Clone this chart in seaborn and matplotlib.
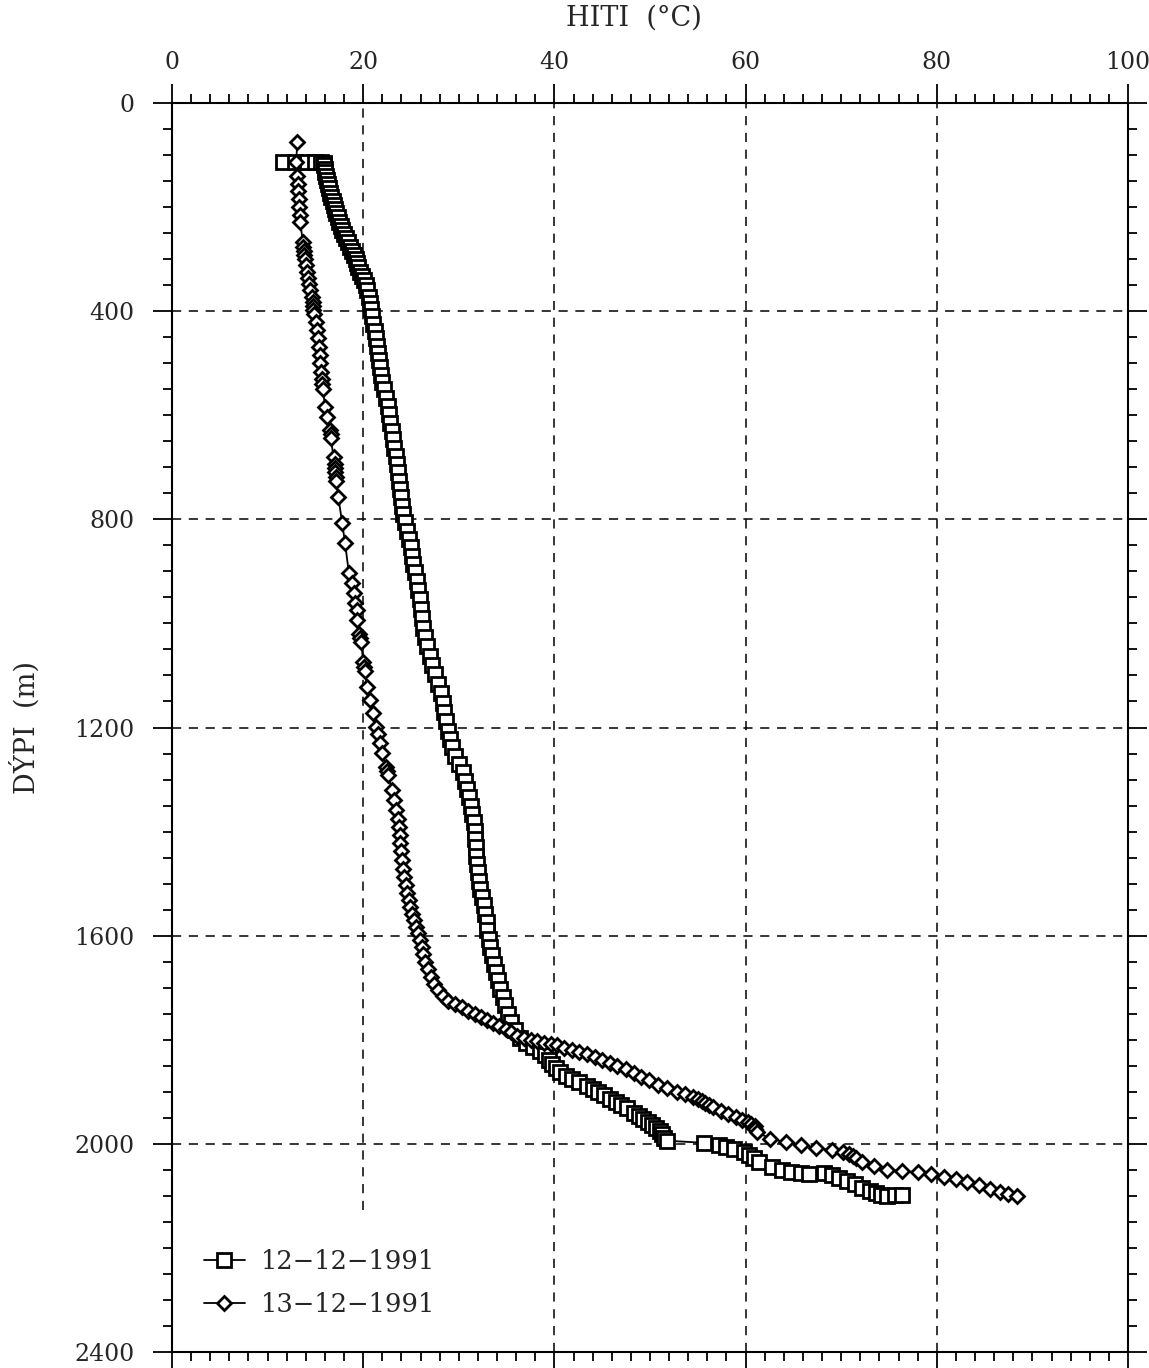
import matplotlib
matplotlib.use("Agg")
import matplotlib.pyplot as plt
import seaborn as sns
from matplotlib.ticker import MultipleLocator

# Temperature log, 12-12-1991 (square markers): depth (m) and temperature (°C)
sq_depth = [113, 113, 113, 113, 114, 116, 120, 126, 132, 140,
            148, 156, 164, 172, 180, 188, 196, 204, 212, 220,
            228, 236, 244, 252, 260, 268, 276, 284, 292, 300,
            308, 316, 324, 332, 340, 350, 360, 372, 384, 396,
            410, 424, 438, 452, 466, 480, 494, 508, 522, 536,
            550, 566, 582, 598, 614, 630, 646, 662, 678, 694,
            710, 726, 742, 758, 774, 790, 806, 822, 838, 854,
            870, 886, 902, 918, 936, 954, 972, 990, 1008, 1026,
            1044, 1062, 1080, 1098, 1116, 1134, 1152, 1170, 1188, 1206,
            1222, 1238, 1254, 1270, 1286, 1302, 1318, 1334, 1350, 1366,
            1382, 1398, 1414, 1430, 1446, 1462, 1478, 1494, 1510, 1526,
            1542, 1558, 1574, 1590, 1606, 1622, 1638, 1654, 1670, 1686,
            1702, 1718, 1734, 1750, 1766, 1782, 1796, 1806, 1814, 1822,
            1830, 1838, 1846, 1854, 1862, 1870, 1876, 1882, 1888, 1894,
            1900, 1906, 1914, 1920, 1926, 1932, 1940, 1946, 1952, 1958,
            1964, 1970, 1976, 1982, 1988, 1994, 1998, 2003, 2006, 2010,
            2016, 2022, 2028, 2034, 2044, 2050, 2054, 2056, 2058, 2056,
            2060, 2066, 2072, 2078, 2084, 2090, 2094, 2098, 2100, 2098,
            2098]
sq_temp = [11.6, 12.9, 14.1, 15.0, 15.6, 15.9, 15.9, 16.0, 16.0, 16.1,
           16.2, 16.3, 16.4, 16.5, 16.6, 16.8, 16.9, 17.1, 17.2, 17.4,
           17.5, 17.7, 17.8, 18.0, 18.2, 18.4, 18.6, 18.8, 19.0, 19.2,
           19.4, 19.5, 19.7, 19.9, 20.1, 20.3, 20.4, 20.6, 20.7, 20.8,
           20.9, 21.0, 21.2, 21.3, 21.4, 21.5, 21.7, 21.8, 21.9, 22.0,
           22.2, 22.4, 22.6, 22.7, 22.8, 23.0, 23.1, 23.2, 23.4, 23.5,
           23.6, 23.7, 23.9, 24.0, 24.1, 24.2, 24.4, 24.6, 24.8, 25.0,
           25.1, 25.2, 25.4, 25.6, 25.7, 25.9, 26.0, 26.1, 26.3, 26.5,
           26.7, 27.0, 27.2, 27.5, 27.8, 28.1, 28.3, 28.5, 28.7, 28.9,
           29.1, 29.3, 29.6, 30.0, 30.4, 30.7, 30.9, 31.1, 31.3, 31.4,
           31.6, 31.7, 31.7, 31.8, 31.8, 31.9, 32.0, 32.1, 32.2, 32.4,
           32.6, 32.7, 32.9, 33.0, 33.2, 33.3, 33.5, 33.7, 33.9, 34.1,
           34.3, 34.6, 34.8, 35.1, 35.5, 35.9, 36.4, 37.0, 37.8, 38.5,
           39.0, 39.4, 39.8, 40.2, 40.6, 41.2, 41.8, 42.6, 43.4, 44.0,
           44.6, 45.2, 45.8, 46.4, 47.0, 47.6, 48.3, 48.8, 49.3, 49.8,
           50.2, 50.6, 51.0, 51.3, 51.5, 51.8, 55.6, 57.2, 58.0, 58.8,
           59.8, 60.4, 60.9, 61.4, 62.8, 63.8, 64.8, 65.8, 66.6, 68.2,
           69.0, 69.8, 70.6, 71.4, 72.2, 73.0, 73.6, 74.2, 74.8, 75.6,
           76.4]

# Temperature log, 13-12-1991 (diamond markers)
dm_depth = [75, 113, 140, 155, 170, 185, 200, 215, 228, 268,
            276, 284, 292, 300, 312, 324, 336, 348, 360, 372,
            382, 390, 398, 406, 420, 436, 452, 468, 484, 500,
            516, 530, 540, 550, 584, 603, 628, 636, 644, 680,
            694, 702, 710, 718, 726, 757, 807, 845, 903, 922,
            941, 960, 975, 993, 1020, 1028, 1036, 1075, 1083, 1091,
            1122, 1147, 1172, 1199, 1212, 1230, 1249, 1276, 1284, 1292,
            1320, 1340, 1359, 1375, 1391, 1407, 1422, 1438, 1455, 1471,
            1487, 1502, 1518, 1531, 1545, 1558, 1570, 1583, 1595, 1608,
            1622, 1636, 1650, 1664, 1679, 1692, 1705, 1716, 1725, 1732,
            1738, 1744, 1750, 1756, 1762, 1768, 1774, 1780, 1786, 1792,
            1796, 1800, 1803, 1806, 1808, 1811, 1815, 1820, 1824, 1828,
            1833, 1838, 1844, 1850, 1857, 1864, 1871, 1878, 1886, 1893,
            1900, 1905, 1910, 1914, 1918, 1922, 1926, 1930, 1936, 1942,
            1948, 1954, 1958, 1962, 1966, 1972, 1978, 1990, 1997, 2003,
            2008, 2012, 2016, 2020, 2024, 2028, 2034, 2042, 2050, 2052,
            2055, 2058, 2063, 2068, 2074, 2080, 2086, 2092, 2096, 2100]
dm_temp = [13.1, 13.0, 13.1, 13.2, 13.2, 13.3, 13.3, 13.4, 13.4, 13.7,
           13.7, 13.8, 13.8, 13.9, 14.0, 14.1, 14.2, 14.3, 14.4, 14.6,
           14.7, 14.8, 14.8, 14.9, 15.1, 15.2, 15.3, 15.4, 15.5, 15.5,
           15.6, 15.7, 15.7, 15.8, 16.0, 16.2, 16.5, 16.6, 16.6, 16.9,
           17.0, 17.1, 17.1, 17.2, 17.2, 17.4, 17.8, 18.1, 18.5, 18.8,
           19.0, 19.1, 19.3, 19.4, 19.6, 19.7, 19.8, 20.0, 20.1, 20.2,
           20.4, 20.7, 21.0, 21.3, 21.6, 21.8, 22.0, 22.4, 22.5, 22.6,
           23.0, 23.2, 23.4, 23.6, 23.7, 23.8, 23.9, 24.0, 24.1, 24.2,
           24.3, 24.5, 24.6, 24.8, 24.9, 25.1, 25.3, 25.5, 25.7, 25.9,
           26.1, 26.3, 26.5, 26.8, 27.1, 27.4, 27.8, 28.3, 28.9, 29.6,
           30.3, 31.0, 31.7, 32.3, 33.0, 33.6, 34.2, 34.9, 35.5, 36.1,
           36.8, 37.5, 38.2, 38.9, 39.6, 40.3, 41.0, 41.8, 42.6, 43.4,
           44.2, 45.0, 45.8, 46.6, 47.5, 48.3, 49.1, 49.9, 50.8, 51.8,
           52.8, 53.7, 54.5, 55.0, 55.4, 55.8, 56.2, 56.6, 57.4, 58.2,
           59.0, 59.6, 60.2, 60.6, 61.0, 61.0, 61.2, 62.6, 64.2, 65.8,
           67.4, 69.0, 70.2, 70.8, 71.2, 71.6, 72.2, 73.4, 74.8, 76.4,
           78.0, 79.4, 80.8, 82.0, 83.2, 84.4, 85.6, 86.6, 87.4, 88.4]

series_labels = ["12\u221212\u22121991", "13\u221212\u22121991"]
x_ticks = [0, 20, 40, 60, 80, 100]
y_ticks = [0, 400, 800, 1200, 1600, 2000, 2400]

sns.set_style("ticks")
plt.rcParams["font.family"] = ["DejaVu Serif"]
plt.rcParams["axes.edgecolor"] = "black"

fig = plt.figure(figsize=(11.49, 13.68), dpi=100)
fig.patch.set_facecolor("white")
ax = fig.add_axes([172 / 1149, 1 - 1352 / 1368, (1128 - 172) / 1149, (1352 - 103) / 1368])

# dashed reference grid
grid_kw = dict(color="black", lw=1.1, linestyle=(0, (6, 5)), zorder=1)
for yv in y_ticks[1:-1]:
    ax.axhline(yv, **grid_kw)
ax.axvline(20, ymin=0.114, ymax=1.0, **grid_kw)
for xv in x_ticks[2:-1]:
    ax.axvline(xv, **grid_kw)

line_kw = dict(color="black", linewidth=1.3, markerfacecolor="white",
               markeredgecolor="black", markeredgewidth=2.0,
               sort=False, estimator=None, ax=ax)
sns.lineplot(x=sq_temp, y=sq_depth, marker="s", markersize=10,
             label=series_labels[0], zorder=3, **line_kw)
sns.lineplot(x=dm_temp, y=dm_depth, marker="D", markersize=7.4,
             label=series_labels[1], zorder=4, **line_kw)

ax.set_xlim(0, 100)
ax.set_ylim(2400, 0)
ax.xaxis.set_major_locator(MultipleLocator(20))
ax.xaxis.set_minor_locator(MultipleLocator(2))
ax.yaxis.set_major_locator(MultipleLocator(400))
ax.yaxis.set_minor_locator(MultipleLocator(50))

ax.tick_params(axis="x", which="both", top=True, bottom=True,
               labeltop=True, labelbottom=False, direction="out",
               color="black", width=1.3)
ax.tick_params(axis="y", which="both", left=True, right=True,
               labelleft=True, labelright=False, direction="out",
               color="black", width=1.3)
ax.tick_params(which="major", length=14, labelsize=17, pad=7)
ax.tick_params(axis="y", which="major", pad=13)
ax.tick_params(which="minor", length=6.5)

for sp in ax.spines.values():
    sp.set_visible(True)
    sp.set_linewidth(1.5)
    sp.set_color("black")

ax.xaxis.set_label_position("top")
ax.set_xlabel("HITI  (\u00b0C)", fontsize=19.5)
ax.xaxis.set_label_coords(0.483, 1.062)
ax.set_ylabel("D\u00ddPI  (m)", fontsize=19.5)
ax.yaxis.set_label_coords(-0.137, 0.5)

leg = ax.legend(loc="lower left", bbox_to_anchor=(0.033, 0.028),
                frameon=False, fontsize=18.5, handlelength=1.6,
                handletextpad=0.65, labelspacing=0.72, borderpad=0,
                borderaxespad=0)

fig.savefig("out.png", dpi=100, facecolor="white")
